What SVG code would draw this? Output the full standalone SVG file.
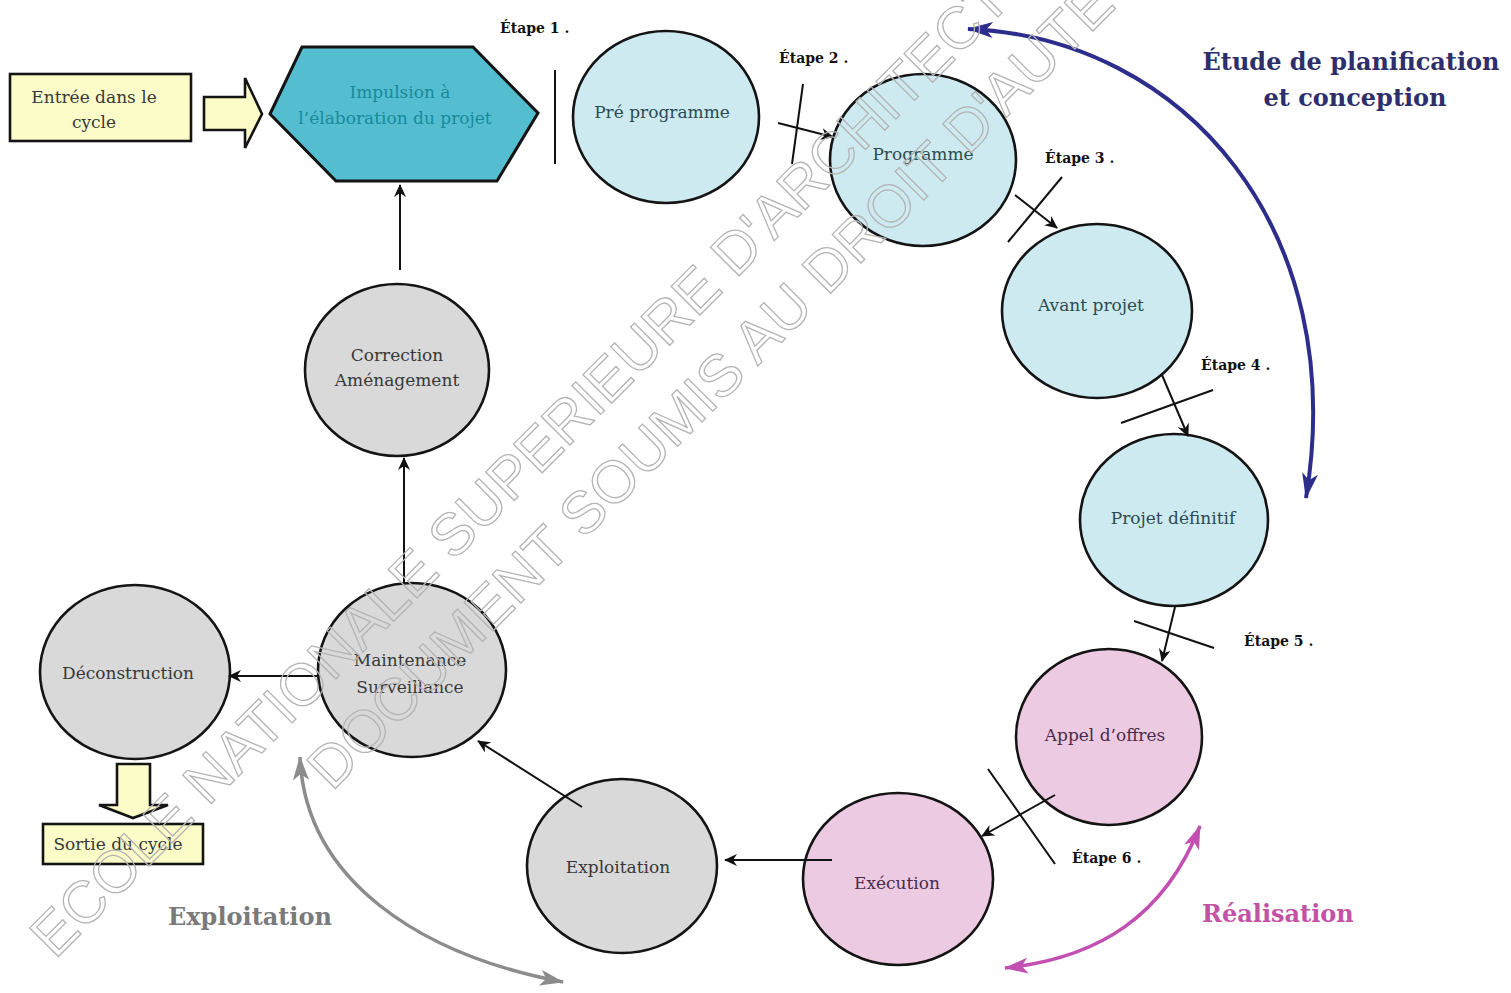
<svg xmlns="http://www.w3.org/2000/svg" width="1511" height="993" viewBox="0 0 1511 993">
<style>
  .circ { stroke:#141414; stroke-width:2.6; }
  .blue { fill:#cdeaf1; }
  .pink { fill:#eccae2; }
  .gray { fill:#d9d9d9; }
  .yellow { fill:#fcfcc8; stroke:#141414; stroke-width:2.6; }
  .lbl { font-family:"DejaVu Serif","Liberation Serif",serif; font-size:17px; text-anchor:middle; }
  .tb { fill:#2c4a50; }
  .tp { fill:#4a2a4a; }
  .tg { fill:#383838; }
  .step { font-family:"DejaVu Serif","Liberation Serif",serif; font-size:14px; font-weight:bold; fill:#111; }
  .phase { font-family:"DejaVu Serif","Liberation Serif",serif; font-size:24px; font-weight:bold; }
  .conn line { stroke:#111; stroke-width:2; fill:none; }
  .arr { marker-end:url(#ah); }
  .wm { font-family:"Liberation Sans",Arial,sans-serif; font-size:59px; fill:none; stroke:#b4b4b4; stroke-width:1.3; }
</style>
<defs>
  <marker id="ah" viewBox="0 0 13 12" refX="12" refY="6" markerWidth="13" markerHeight="12" markerUnits="userSpaceOnUse" orient="auto">
    <path d="M0,0 L13,6 L0,12 L4,6 z" fill="#111"/>
  </marker>
  <marker id="ahBlue" viewBox="0 0 26 16" refX="25" refY="8" markerWidth="26" markerHeight="16" markerUnits="userSpaceOnUse" orient="auto-start-reverse">
    <path d="M0,0 L26,8 L0,16 L7,8 z" fill="#2d2d8c"/>
  </marker>
  <marker id="ahPink" viewBox="0 0 24 16" refX="23" refY="8" markerWidth="24" markerHeight="16" markerUnits="userSpaceOnUse" orient="auto-start-reverse">
    <path d="M0,0 L24,8 L0,16 L6,8 z" fill="#c24fb2"/>
  </marker>
  <marker id="ahGray" viewBox="0 0 24 16" refX="23" refY="8" markerWidth="24" markerHeight="16" markerUnits="userSpaceOnUse" orient="auto-start-reverse">
    <path d="M0,0 L24,8 L0,16 L6,8 z" fill="#8c8c8c"/>
  </marker>
</defs>
<rect x="0" y="0" width="1511" height="993" fill="#ffffff"/>

<!-- Nodes -->
<g id="entree">
  <rect class="yellow" x="10" y="74" width="181" height="67"/>
  <text class="lbl tg" x="94" y="103">Entrée dans le</text>
  <text class="lbl tg" x="94" y="128">cycle</text>
</g>
<g id="entree-fleche">
  <polygon class="yellow" points="204,97 245,97 245,78 262,114 245,148 245,130 204,130"/>
</g>
<g id="impulsion">
  <polygon points="270,114 302,47 473,47 538,113 497,181 336,181" fill="#55bdd0" stroke="#141414" stroke-width="3"/>
  <text class="lbl" x="400" y="98" fill="#178b9c">Impulsion à</text>
  <text class="lbl" x="395" y="124" fill="#178b9c">l’élaboration du projet</text>
</g>
<g id="pre-programme">
  <ellipse class="circ blue" cx="666" cy="117" rx="93" ry="86"/>
  <text class="lbl tb" x="662" y="118">Pré programme</text>
</g>
<g id="programme">
  <ellipse class="circ blue" cx="923" cy="160" rx="93" ry="86"/>
  <text class="lbl tb" x="923" y="160">Programme</text>
</g>
<g id="avant-projet">
  <ellipse class="circ blue" cx="1097" cy="311" rx="95" ry="87"/>
  <text class="lbl tb" x="1091" y="311">Avant projet</text>
</g>
<g id="projet-definitif">
  <ellipse class="circ blue" cx="1174" cy="520" rx="94" ry="86"/>
  <text class="lbl tb" x="1173" y="524">Projet définitif</text>
</g>
<g id="appel-offres">
  <ellipse class="circ pink" cx="1109" cy="737" rx="93" ry="88"/>
  <text class="lbl tp" x="1105" y="741">Appel d’offres</text>
</g>
<g id="execution">
  <ellipse class="circ pink" cx="898" cy="879" rx="95" ry="86"/>
  <text class="lbl tp" x="897" y="889">Exécution</text>
</g>
<g id="exploitation">
  <ellipse class="circ gray" cx="622" cy="866" rx="95" ry="87"/>
  <text class="lbl tg" x="618" y="873">Exploitation</text>
</g>
<g id="maintenance">
  <ellipse class="circ gray" cx="412" cy="670" rx="94" ry="87"/>
  <text class="lbl tg" x="410" y="666">Maintenance</text>
  <text class="lbl tg" x="410" y="693">Surveillance</text>
</g>
<g id="correction">
  <ellipse class="circ gray" cx="397" cy="370" rx="92" ry="86"/>
  <text class="lbl tg" x="397" y="361">Correction</text>
  <text class="lbl tg" x="397" y="386">Aménagement</text>
</g>
<g id="deconstruction">
  <ellipse class="circ gray" cx="135" cy="672" rx="95" ry="87"/>
  <text class="lbl tg" x="128" y="679">Déconstruction</text>
</g>
<g id="sortie-fleche">
  <polygon class="yellow" points="117,764 150,764 150,805 168,805 133,818 99,805 117,805"/>
</g>
<g id="sortie">
  <rect class="yellow" x="43" y="824" width="160" height="40"/>
  <text class="lbl tg" x="118" y="850">Sortie du cycle</text>
</g>

<!-- Connectors -->
<g id="connectors" class="conn">
  <line class="arr" x1="400" y1="270" x2="400" y2="185"/>
  <line class="arr" x1="404" y1="583" x2="404" y2="458"/>
  <line class="arr" x1="778" y1="123" x2="833" y2="137"/>
  <line class="arr" x1="1015" y1="195" x2="1057" y2="228"/>
  <line class="arr" x1="1162" y1="375" x2="1188" y2="436"/>
  <line class="arr" x1="1175" y1="607" x2="1162" y2="661"/>
  <line class="arr" x1="1055" y1="795" x2="982" y2="836"/>
  <line class="arr" x1="832" y1="860" x2="725" y2="860"/>
  <line class="arr" x1="582" y1="807" x2="478" y2="741"/>
  <line class="arr" x1="317" y1="676" x2="229" y2="676"/>
  <!-- stage ticks -->
  <line x1="555" y1="70" x2="555" y2="164"/>
  <line x1="803" y1="84" x2="792" y2="164"/>
  <line x1="1062" y1="177" x2="1008" y2="242"/>
  <line x1="1121" y1="423" x2="1213" y2="390"/>
  <line x1="1134" y1="621" x2="1214" y2="648"/>
  <line x1="988" y1="769" x2="1055" y2="864"/>
  <!-- phase arcs -->
  <path d="M968,29 C1185,38 1350,230 1306,498" fill="none" stroke="#2d2d8c" stroke-width="4" marker-start="url(#ahBlue)" marker-end="url(#ahBlue)"/>
  <path d="M1200,826 C1165,915 1100,958 1005,968" fill="none" stroke="#c24fb2" stroke-width="3.5" marker-start="url(#ahPink)" marker-end="url(#ahPink)"/>
  <path d="M300,757 C305,880 420,955 563,982" fill="none" stroke="#8c8c8c" stroke-width="3.5" marker-start="url(#ahGray)" marker-end="url(#ahGray)"/>
</g>

<!-- Stage labels -->
<g id="etapes">
  <text class="step" x="500" y="33">Étape 1 .</text>
  <text class="step" x="779" y="63">Étape 2 .</text>
  <text class="step" x="1045" y="163">Étape 3 .</text>
  <text class="step" x="1201" y="370">Étape 4 .</text>
  <text class="step" x="1244" y="646">Étape 5 .</text>
  <text class="step" x="1072" y="863">Étape 6 .</text>
</g>

<!-- Phase labels -->
<g id="phases">
  <text class="phase" x="1351" y="70" text-anchor="middle" fill="#2e2e6a">Étude de planification</text>
  <text class="phase" x="1355" y="106" text-anchor="middle" fill="#2e2e6a">et conception</text>
  <text class="phase" x="1202" y="922" fill="#c352a6">Réalisation</text>
  <text class="phase" x="168" y="925" fill="#7a7a7a">Exploitation</text>
</g>

<!-- Watermark -->
<g id="watermark">
  <text class="wm" transform="translate(55,960) rotate(-45)">ECOLE NATIONALE SUPERIEURE D'ARCHITECTURE</text>
  <text class="wm" transform="translate(332,792) rotate(-45)">DOCUMENT SOUMIS AU DROIT D'AUTEUR</text>
</g>
</svg>
